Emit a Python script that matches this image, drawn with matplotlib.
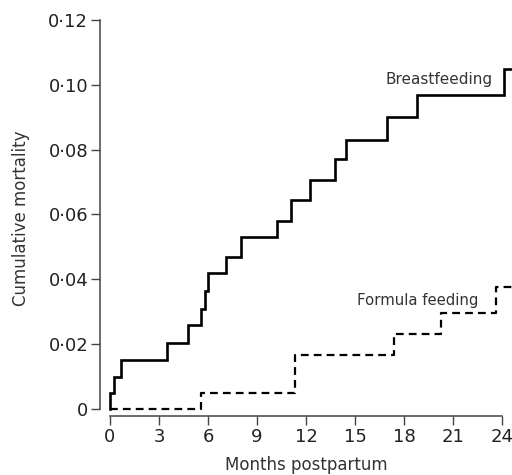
import matplotlib
matplotlib.use("Agg")
import matplotlib.pyplot as plt

# Data
bf_months = [0, 0, 0.25, 0.7, 3.5, 4.8, 5.6, 5.8, 6.0, 7.1, 8.0, 10.25, 11.1, 12.25, 13.8, 14.45, 16.95, 18.8, 24.1, 24.7]
bf_mort = [0, 0.005, 0.010, 0.015, 0.0205, 0.026, 0.031, 0.0365, 0.042, 0.047, 0.053, 0.058, 0.0645, 0.0705, 0.077, 0.083, 0.090, 0.097, 0.105, 0.105]
ff_months = [0, 5.55, 11.35, 17.35, 20.25, 23.6, 24.7]
ff_mort = [0, 0.005, 0.0167, 0.023, 0.0295, 0.0375, 0.0375]
xticks = [0, 3, 6, 9, 12, 15, 18, 21, 24]
yticks = [0, 0.02, 0.04, 0.06, 0.08, 0.10, 0.12]
ytick_labels = ["0", "0·02", "0·04", "0·06", "0·08", "0·10", "0·12"]

plt.rcParams['font.family'] = ['DejaVu Sans']
txt = '#333333'

fig = plt.figure(figsize=(5.12, 4.75), dpi=100)
ax = fig.add_axes([100/512, 1-416/475, 1-100/512, (416-20)/475])

ax.plot(bf_months, bf_mort, drawstyle='steps-post', color='black', lw=1.9, solid_joinstyle='miter')
ax.plot(ff_months, ff_mort, drawstyle='steps-post', color='black', lw=1.6, dashes=(3.5, 2.3))

ax.set_xlim(-0.61, 24.6)
ax.set_ylim(-0.00216, 0.12)
ax.spines['top'].set_visible(False)
ax.spines['right'].set_visible(False)
ax.spines['left'].set_bounds(0, 0.12)
ax.spines['bottom'].set_bounds(0, 24)
for s in ('left', 'bottom'):
    ax.spines[s].set_color('#444444')
    ax.spines[s].set_linewidth(1.1)

ax.set_xticks(xticks)
ax.set_xticklabels([str(t) for t in xticks])
ax.set_yticks(yticks)
ax.set_yticklabels(ytick_labels)
ax.tick_params(length=6.5, width=1.0, color='#444444', labelsize=13, labelcolor='#222222', pad=2)

ax.set_xlabel('Months postpartum', fontsize=12, color=txt, labelpad=7)
ax.set_ylabel('Cumulative mortality', fontsize=12, color=txt, labelpad=13)

ax.text(23.39, 0.1015, 'Breastfeeding', ha='right', va='center', fontsize=11, color=txt)
ax.text(22.55, 0.0336, 'Formula feeding', ha='right', va='center', fontsize=10.7, color=txt)

fig.savefig('out.png', dpi=100)
